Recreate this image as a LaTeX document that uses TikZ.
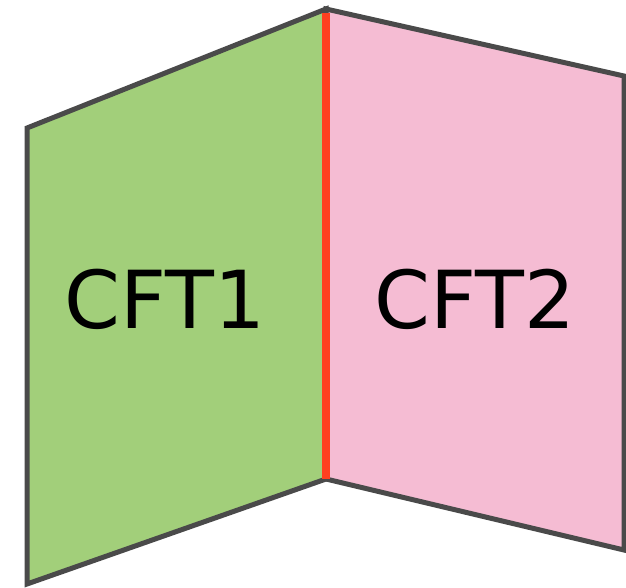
\documentclass[tikz,border=0pt]{standalone}
\usepackage{fontspec}
\setmainfont{DejaVu Sans}
\definecolor{edgegray}{HTML}{4A4A4A}
\definecolor{leftgreen}{HTML}{A2CF7A}
\definecolor{rightpink}{HTML}{F5BCD3}
\definecolor{spinered}{HTML}{FF4020}
\begin{document}
\begin{tikzpicture}[x=1pt,y=-1pt,
  panel/.style={draw=edgegray,line width=5pt,line join=miter},
  label/.style={font=\fontsize{80}{82}\selectfont,text=black,inner sep=0pt}]
\useasboundingbox (0,0) rectangle (626,588);
% corner points of the two panels
\coordinate (tl) at (27,128);
\coordinate (tm) at (326,9);
\coordinate (bm) at (326,479);
\coordinate (bl) at (27,584);
\coordinate (tr) at (624,76);
\coordinate (br) at (624,550);
% panels
\draw[panel,fill=leftgreen] (tl) -- (tm) -- (bm) -- (bl) -- cycle;
\draw[panel,fill=rightpink] (tm) -- (tr) -- (br) -- (bm) -- cycle;
% shared fold
\draw[spinered,line width=8pt] (326,13) -- (bm);
% labels
\node[label] (c1) at (165,299) {CFT1};
\node[label] (c2) at (475,299) {CFT2};
\end{tikzpicture}
\end{document}
